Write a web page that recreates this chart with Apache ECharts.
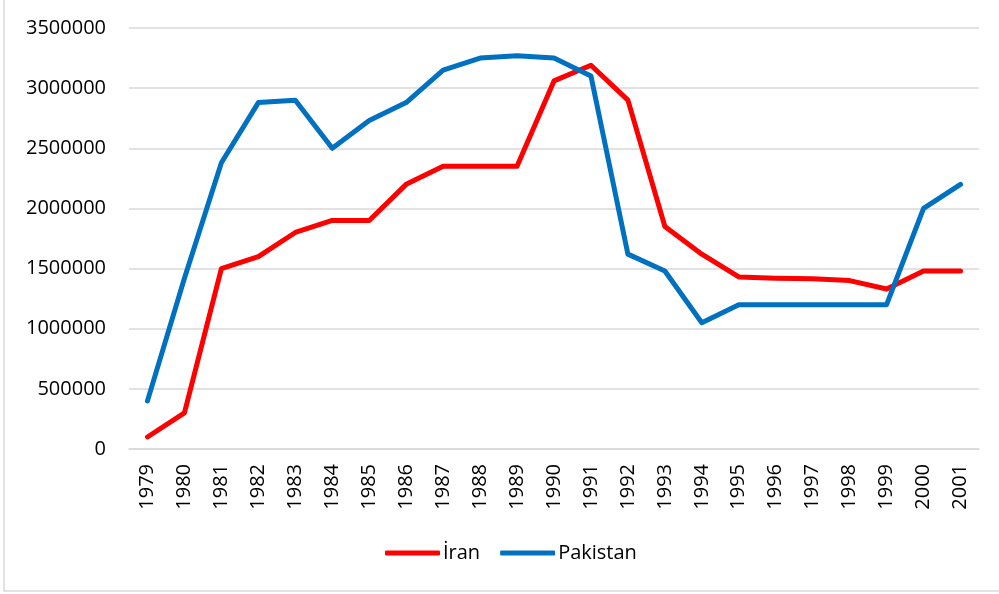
<!DOCTYPE html>
<html>
<head>
<meta charset="utf-8">
<title>İran - Pakistan</title>
<script src="https://cdn.jsdelivr.net/npm/echarts@6/dist/echarts.min.js"></script>
<style>
  html, body { margin: 0; padding: 0; background: #fff; }
  #chart { width: 999px; height: 594px; }
</style>
</head>
<body>
<div id="chart"></div>
<script>
// yillar
const years = ['1979', '1980', '1981', '1982', '1983', '1984', '1985', '1986', '1987', '1988', '1989', '1990',
  '1991', '1992', '1993', '1994', '1995', '1996', '1997', '1998', '1999', '2000', '2001'];

const iran = [100000, 300000, 1500000, 1600000, 1800000, 1900000, 1900000, 2200000, 2350000, 2350000, 2350000, 3060000,
  3190000, 2900000, 1850000, 1620000, 1430000, 1420000, 1415000, 1400000, 1330000, 1480000, 1480000];

const pakistan = [400000, 1420000, 2380000, 2880000, 2900000, 2500000, 2730000, 2880000, 3150000, 3250000, 3270000, 3250000,
  3100000, 1620000, 1480000, 1050000, 1200000, 1200000, 1200000, 1200000, 1200000, 2000000, 2200000];

const yMin = 0;
const yMax = 3500000;
const yStep = 500000;

const font = '"Open Sans", "DejaVu Sans", sans-serif';

let chart = echarts.init(document.getElementById('chart'));

const lineSeries = (name, data, color) => ({
  name: name,
  type: 'line',
  data: data,
  symbol: 'none',
  color: color,
  lineStyle: {width: 5, color: color, cap: 'round', join: 'round'},
  animation: false
});

chart.setOption({
  backgroundColor: '#fff',
  graphic: [{
    type: 'rect',
    shape: {x: 4, y: -10, width: 1010, height: 601},
    style: {fill: 'none', stroke: '#d9d9d9', lineWidth: 1.5},
    silent: true
  }],
  grid: {left: 129, right: 20, top: 28, bottom: 145},
  xAxis: {
    type: 'category',
    data: years,
    boundaryGap: true,
    axisLine: {show: true, lineStyle: {color: '#d9d9d9', width: 1.5}},
    axisTick: {show: false},
    axisLabel: {
      rotate: 90,
      margin: 15,
      color: '#000',
      fontFamily: font,
      fontSize: 20
    }
  },
  yAxis: {
    type: 'value',
    min: yMin,
    max: yMax,
    interval: yStep,
    axisLine: {show: false},
    axisTick: {show: false},
    splitLine: {lineStyle: {color: '#d9d9d9', width: 1.5}},
    axisLabel: {
      margin: 23,
      color: '#000',
      fontFamily: font,
      fontSize: 20,
      formatter: v => String(v)
    }
  },
  legend: {
    left: 380,
    top: 538,
    icon: 'roundRect',
    itemWidth: 55,
    itemHeight: 5,
    itemGap: 20,
    textStyle: {color: '#000', fontFamily: font, fontSize: 20, padding: [0, 0, 0, -2]},
    data: ['İran', 'Pakistan']
  },
  series: [
    lineSeries('İran', iran, '#ff0000'),
    lineSeries('Pakistan', pakistan, '#0070c0')
  ]
});
</script>
</body>
</html>
